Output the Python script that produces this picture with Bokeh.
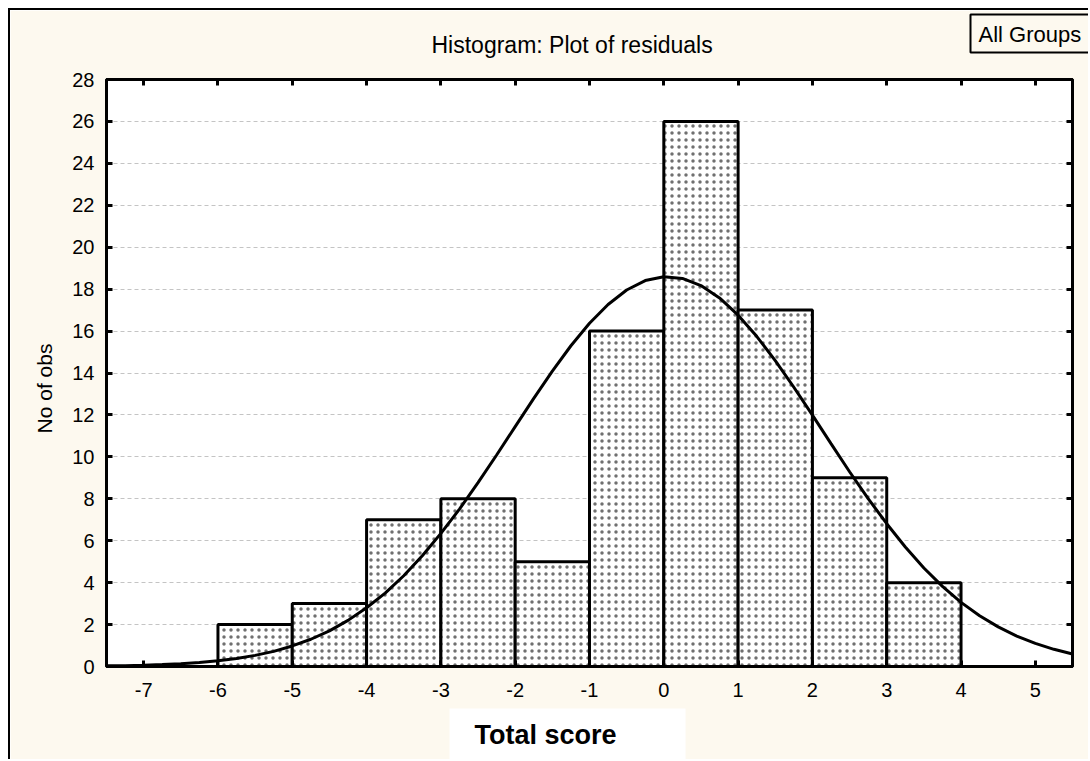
from bokeh.plotting import figure
from bokeh.models import Label, LinearAxis, FixedTicker, Range1d
from bokeh.embed import file_html
from bokeh.resources import INLINE

# ---- data ----
bin_left = [-6, -5, -4, -3, -2, -1, 0, 1, 2, 3]
bin_right = [-5, -4, -3, -2, -1, 0, 1, 2, 3, 4]
counts = [2, 3, 7, 8, 5, 16, 26, 17, 9, 4]

x_ticks = [-7, -6, -5, -4, -3, -2, -1, 0, 1, 2, 3, 4, 5]
x_tick_labels = ["-7", "-6", "-5", "-4", "-3", "-2", "-1", "0", "1", "2", "3", "4", "5"]
y_ticks = [0, 2, 4, 6, 8, 10, 12, 14, 16, 18, 20, 22, 24, 26, 28]

curve_x = [-7.5, -7.25, -7.0, -6.75, -6.5, -6.25, -6.0, -5.75, -5.5, -5.25,
           -5.0, -4.75, -4.5, -4.25, -4.0, -3.75, -3.5, -3.25, -3.0, -2.75,
           -2.5, -2.25, -2.0, -1.75, -1.5, -1.25, -1.0, -0.75, -0.5, -0.25,
           0.0, 0.25, 0.5, 0.75, 1.0, 1.25, 1.5, 1.75, 2.0, 2.25,
           2.5, 2.75, 3.0, 3.25, 3.5, 3.75, 4.0, 4.25, 4.5, 4.75,
           5.0, 5.25, 5.5]
curve_y = [0.03, 0.04, 0.06, 0.09, 0.13, 0.19, 0.27, 0.38, 0.53, 0.72,
           0.98, 1.30, 1.70, 2.20, 2.80, 3.50, 4.33, 5.28, 6.35, 7.51,
           8.77, 10.09, 11.44, 12.79, 14.09, 15.30, 16.37, 17.27, 17.96, 18.41,
           18.59, 18.51, 18.17, 17.58, 16.76, 15.75, 14.59, 13.32, 11.99, 10.63,
           9.29, 8.01, 6.81, 5.70, 4.70, 3.82, 3.06, 2.42, 1.89, 1.45,
           1.10, 0.82, 0.60]

title_text = "Histogram: Plot of residuals"
x_label = "Total score"
y_label = "No of obs"
legend_text = "All Groups"

FONT = "Liberation Sans"
CREAM = "#fdf9ef"

p = figure(width=1080, height=751, output_backend="svg", toolbar_location=None,
           x_range=Range1d(-7.5, 5.5), y_range=Range1d(0, 28),
           min_border_left=96, min_border_right=18, min_border_top=69, min_border_bottom=95,
           background_fill_color="white", border_fill_color=CREAM,
           outline_line_color="black", outline_line_width=3)
p.styles = {"margin-left": "8px", "margin-top": "8px",
            "border-left": "2px solid black", "border-top": "2px solid black"}

xt = FixedTicker(ticks=x_ticks)
yt = FixedTicker(ticks=y_ticks)

for ax in (p.xaxis[0], p.yaxis[0]):
    ax.major_tick_in = 6
    ax.major_tick_out = 0
    ax.minor_tick_line_color = None
    ax.axis_line_width = 3
    ax.major_tick_line_width = 3
    ax.major_label_text_font = FONT
    ax.major_label_text_font_size = "20px"
    ax.major_label_text_color = "black"
p.xaxis[0].ticker = xt
p.xaxis[0].major_label_overrides = {t: s for t, s in zip(x_ticks, x_tick_labels)}
p.yaxis[0].ticker = yt
p.xaxis[0].major_label_standoff = 16
p.yaxis[0].major_label_standoff = 12

# tick marks only (no labels) on the right and top edges
right = LinearAxis(ticker=FixedTicker(ticks=y_ticks), major_label_text_font_size="1px",
                   major_label_text_color=None, major_label_standoff=0,
                   major_tick_in=6, major_tick_out=0,
                   minor_tick_line_color=None, axis_line_width=3, major_tick_line_width=3)
top = LinearAxis(ticker=FixedTicker(ticks=x_ticks), major_label_text_font_size="1px",
                 major_label_text_color=None, major_label_standoff=0,
                 major_tick_in=6, major_tick_out=0,
                 minor_tick_line_color=None, axis_line_width=3, major_tick_line_width=3)
p.add_layout(right, "right")
p.add_layout(top, "above")

p.xgrid.grid_line_color = None
p.ygrid.ticker = yt
p.ygrid.grid_line_color = "#c4c4c4"
p.ygrid.grid_line_dash = "4 3"
p.ygrid.grid_line_width = 1

p.quad(left=bin_left, right=bin_right, top=counts, bottom=0,
       fill_color="white", line_color="black", line_width=3,
       hatch_pattern="dot", hatch_color="#707070", hatch_scale=7, hatch_weight=1.1)

p.line(curve_x, curve_y, line_color="black", line_width=3)

# texts outside the frame: labels placed in side panels, canvas pixel units (y from top)
p.add_layout(Label(x=419, y=19, x_units="canvas", y_units="canvas",
                   text=title_text, text_font=FONT, text_font_size="23px",
                   text_color="black", text_align="left", text_baseline="top"),
             "above")
p.add_layout(Label(x=958, y=2, x_units="canvas", y_units="canvas",
                   text=legend_text, text_font=FONT, text_font_size="22px",
                   text_color="black", text_align="left", text_baseline="top",
                   background_fill_color=CREAM, border_line_color="black",
                   border_line_width=2,
                   padding=dict(left=8, right=18, top=7, bottom=6)),
             "above")
p.add_layout(Label(x=32, y=376, x_units="canvas", y_units="canvas",
                   text=y_label, text_font=FONT, text_font_size="21px",
                   text_color="black", angle=1.5707963,
                   text_align="center", text_baseline="middle"),
             "left")
p.add_layout(Label(x=437, y=696, x_units="canvas", y_units="canvas",
                   text=x_label, text_font=FONT, text_font_size="27px",
                   text_font_style="bold", text_color="black",
                   text_align="left", text_baseline="top",
                   background_fill_color="white",
                   padding=dict(left=25, right=69, top=11, bottom=12)),
             "below")

open("out.html", "w").write(file_html(p, INLINE))
